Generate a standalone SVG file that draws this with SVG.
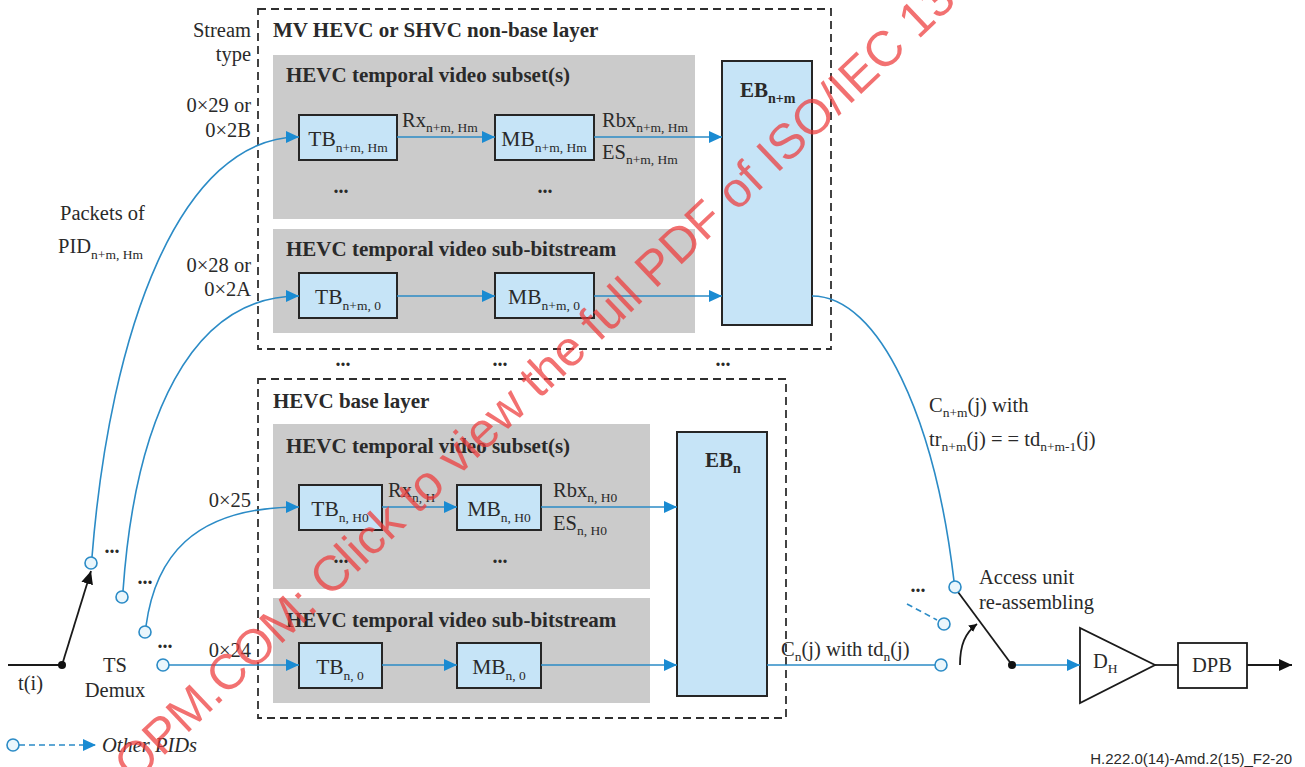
<svg xmlns="http://www.w3.org/2000/svg" width="1305" height="767" viewBox="0 0 1305 767">
<defs>
<style>
text{font-family:"Liberation Serif","Times New Roman",serif;fill:#2a2a2a;font-size:20.5px}
.t{font-weight:bold;font-size:21px}
.bl{font-size:21.5px}
.sub{font-size:13.5px}
.eb{font-weight:bold;font-size:21px}
.ebs{font-weight:bold;font-size:14px}
.dash{fill:none;stroke:#2f2f2f;stroke-width:1.8;stroke-dasharray:8 5}
.gray{fill:#cbcbcb}
.box{fill:#c6e4f7;stroke:#262626;stroke-width:2}
.ln{fill:none;stroke:#2b8bc6;stroke-width:1.6}
.blk{fill:none;stroke:#1a1a1a;stroke-width:1.8}
.cir{fill:#eaf6fc;stroke:#2b8bc6;stroke-width:1.6}
.dots{font-size:20px;font-weight:bold}
.wm{font-family:"Liberation Sans",Arial,sans-serif;font-size:49.5px;fill:#ee3b3b;opacity:0.72}
</style>
<marker id="ab" markerUnits="userSpaceOnUse" markerWidth="14" markerHeight="12" refX="13" refY="6" orient="auto"><path d="M0,0 L13,6 L0,12 z" fill="#1a8bd2"/></marker>
<marker id="ak" markerUnits="userSpaceOnUse" markerWidth="14" markerHeight="12" refX="13" refY="6" orient="auto"><path d="M0,0 L13,6 L0,12 z" fill="#111"/></marker>
<marker id="aks" markerUnits="userSpaceOnUse" markerWidth="9" markerHeight="8" refX="8" refY="4" orient="auto"><path d="M0,0 L8,4 L0,8 z" fill="#111"/></marker>
</defs>
<rect width="1305" height="767" fill="#fff"/>

<g id="nonbase-layer">
<rect class="dash" x="258" y="9" width="573" height="340"/>
<text class="t" x="273" y="37">MV HEVC or SHVC non-base layer</text>
</g>
<g id="nonbase-subset">
<rect class="gray" x="273" y="55" width="422" height="164"/>
<text class="t" x="286" y="82">HEVC temporal video subset(s)</text>
<text class="dots" x="341" y="193" text-anchor="middle">...</text>
<text class="dots" x="545" y="193" text-anchor="middle">...</text>
</g>
<g id="tb-nm-hm"><rect class="box" x="299" y="115" width="98" height="45"/><text class="bl" x="348" y="146" text-anchor="middle">TB<tspan class="sub" dy="6">n+m, Hm</tspan></text></g>
<g id="mb-nm-hm"><rect class="box" x="495" y="115" width="99" height="45"/><text class="bl" x="544" y="146" text-anchor="middle">MB<tspan class="sub" dy="6">n+m, Hm</tspan></text></g>
<g id="nonbase-sub">
<rect class="gray" x="273" y="229" width="422" height="104"/>
<text class="t" x="286" y="256">HEVC temporal video sub-bitstream</text>
</g>
<g id="tb-nm-0"><rect class="box" x="299" y="273" width="98" height="45"/><text class="bl" x="348" y="304" text-anchor="middle">TB<tspan class="sub" dy="6">n+m, 0</tspan></text></g>
<g id="mb-nm-0"><rect class="box" x="495" y="273" width="99" height="45"/><text class="bl" x="544" y="304" text-anchor="middle">MB<tspan class="sub" dy="6">n+m, 0</tspan></text></g>
<g id="eb-nm"><rect class="box" x="722" y="61" width="90" height="264"/><text class="eb" x="740" y="97">EB<tspan class="ebs" dy="6">n+m</tspan></text></g>

<g id="base-layer">
<rect class="dash" x="258" y="379" width="528" height="339"/>
<text class="t" x="273" y="408">HEVC base layer</text>
</g>
<g id="base-subset">
<rect class="gray" x="273" y="424" width="377" height="165"/>
<text class="t" x="286" y="453">HEVC temporal video subset(s)</text>
<text class="dots" x="341" y="563" text-anchor="middle">...</text>
<text class="dots" x="500" y="563" text-anchor="middle">...</text>
</g>
<g id="tb-n-h0"><rect class="box" x="299" y="485" width="83" height="45"/><text class="bl" x="340" y="516" text-anchor="middle">TB<tspan class="sub" dy="6">n, H0</tspan></text></g>
<g id="mb-n-h0"><rect class="box" x="457" y="485" width="84" height="45"/><text class="bl" x="499" y="516" text-anchor="middle">MB<tspan class="sub" dy="6">n, H0</tspan></text></g>
<g id="base-sub">
<rect class="gray" x="273" y="598" width="377" height="105"/>
<text class="t" x="286" y="627">HEVC temporal video sub-bitstream</text>
</g>
<g id="tb-n-0"><rect class="box" x="299" y="643" width="83" height="45"/><text class="bl" x="340" y="674" text-anchor="middle">TB<tspan class="sub" dy="6">n, 0</tspan></text></g>
<g id="mb-n-0"><rect class="box" x="457" y="643" width="84" height="45"/><text class="bl" x="499" y="674" text-anchor="middle">MB<tspan class="sub" dy="6">n, 0</tspan></text></g>
<g id="eb-n"><rect class="box" x="677" y="432" width="90" height="264"/><text class="eb" x="705" y="467">EB<tspan class="ebs" dy="6">n</tspan></text></g>

<g id="between-dots">
<text class="dots" x="343" y="366" text-anchor="middle">...</text>
<text class="dots" x="500" y="366" text-anchor="middle">...</text>
<text class="dots" x="723" y="366" text-anchor="middle">...</text>
</g>

<g id="dh"><polygon points="1080,628 1080,703 1155,665" fill="#fff" stroke="#1a1a1a" stroke-width="1.8"/><text x="1093" y="668">D<tspan class="sub" dy="5">H</tspan></text></g>
<g id="dpb"><rect x="1178" y="643" width="69" height="45" fill="#fff" stroke="#1a1a1a" stroke-width="1.8"/><text x="1212" y="672" text-anchor="middle">DPB</text></g>

<g id="connectors">
<line class="ln" x1="397" y1="137" x2="495" y2="137" marker-end="url(#ab)"/>
<line class="ln" x1="594" y1="137" x2="722" y2="137" marker-end="url(#ab)"/>
<line class="ln" x1="397" y1="296" x2="495" y2="296" marker-end="url(#ab)"/>
<line class="ln" x1="594" y1="296" x2="722" y2="296" marker-end="url(#ab)"/>
<line class="ln" x1="382" y1="507" x2="457" y2="507" marker-end="url(#ab)"/>
<line class="ln" x1="541" y1="507" x2="677" y2="507" marker-end="url(#ab)"/>
<line class="ln" x1="382" y1="665" x2="457" y2="665" marker-end="url(#ab)"/>
<line class="ln" x1="541" y1="665" x2="677" y2="665" marker-end="url(#ab)"/>
<path class="ln" d="M92,557 C110,330 180,137 299,137" marker-end="url(#ab)"/>
<path class="ln" d="M123,591 C135,420 190,296 299,296" marker-end="url(#ab)"/>
<path class="ln" d="M146,626 C155,560 190,507 299,507" marker-end="url(#ab)"/>
<line class="ln" x1="169" y1="665" x2="299" y2="665" marker-end="url(#ab)"/>
<path class="ln" d="M812,296 C880,296 935,420 954,581"/>
<line class="ln" x1="767" y1="665" x2="935" y2="665"/>
<line class="ln" x1="907" y1="604" x2="937" y2="620" stroke-dasharray="6 4"/>
<line class="ln" x1="1012" y1="665" x2="1080" y2="665" marker-end="url(#ab)"/>
<line class="ln" x1="19" y1="745" x2="96" y2="745" stroke-dasharray="6 4" marker-end="url(#ab)"/>
<line class="blk" x1="8" y1="665" x2="62" y2="665"/>
<line class="blk" x1="62" y1="665" x2="91" y2="571" marker-end="url(#ak)"/>
<circle cx="62" cy="665" r="4" fill="#111"/>
<line class="blk" x1="958" y1="592" x2="1012" y2="665"/>
<circle cx="1012" cy="665" r="4" fill="#111"/>
<path class="blk" d="M960,665 C960,645 965,633 977,624" stroke-width="1.2" marker-end="url(#aks)"/>
<line class="blk" x1="1155" y1="665" x2="1178" y2="665"/>
<line class="blk" x1="1247" y1="665" x2="1292" y2="665" marker-end="url(#ak)"/>
<circle class="cir" cx="91" cy="563" r="6"/>
<circle class="cir" cx="122" cy="597" r="6"/>
<circle class="cir" cx="145" cy="632" r="6"/>
<circle class="cir" cx="163" cy="665" r="6"/>
<circle class="cir" cx="955" cy="587" r="6"/>
<circle class="cir" cx="944" cy="624" r="6"/>
<circle class="cir" cx="941" cy="665" r="6"/>
<circle class="cir" cx="13" cy="745" r="6"/>
</g>

<g id="labels">
<text x="251" y="37" text-anchor="end">Stream</text>
<text x="251" y="61" text-anchor="end">type</text>
<text x="251" y="112" text-anchor="end">0×29 or</text>
<text x="251" y="137" text-anchor="end">0×2B</text>
<text x="251" y="272" text-anchor="end">0×28 or</text>
<text x="251" y="296" text-anchor="end">0×2A</text>
<text x="251" y="507" text-anchor="end">0×25</text>
<text x="251" y="657" text-anchor="end">0×24</text>
<text x="60" y="220">Packets of</text>
<text x="58" y="253">PID<tspan class="sub" dy="6">n+m, Hm</tspan></text>
<text x="402" y="127">Rx<tspan class="sub" dy="5">n+m, Hm</tspan></text>
<text x="602" y="127">Rbx<tspan class="sub" dy="5">n+m, Hm</tspan></text>
<text x="602" y="159">ES<tspan class="sub" dy="5">n+m, Hm</tspan></text>
<text x="388" y="497">Rx<tspan class="sub" dy="5">n, H</tspan></text>
<text x="553" y="497">Rbx<tspan class="sub" dy="5">n, H0</tspan></text>
<text x="553" y="530">ES<tspan class="sub" dy="5">n, H0</tspan></text>
<text x="929" y="412">C<tspan class="sub" dy="5">n+m</tspan><tspan dy="-5">(j) with</tspan></text>
<text x="929" y="446">tr<tspan class="sub" dy="5">n+m</tspan><tspan dy="-5">(j) = = td</tspan><tspan class="sub" dy="5">n+m-1</tspan><tspan dy="-5">(j)</tspan></text>
<text x="781" y="656">C<tspan class="sub" dy="5">n</tspan><tspan dy="-5">(j) with td</tspan><tspan class="sub" dy="5">n</tspan><tspan dy="-5">(j)</tspan></text>
<text x="979" y="584">Access unit</text>
<text x="979" y="609">re-assembling</text>
<text x="18" y="690">t(i)</text>
<text x="115" y="672" text-anchor="middle">TS</text>
<text x="115" y="697" text-anchor="middle">Demux</text>
<text x="102" y="752" font-style="italic">Other PIDs</text>
<text class="dots" x="112" y="553" text-anchor="middle">...</text>
<text class="dots" x="145" y="584" text-anchor="middle">...</text>
<text class="dots" x="165" y="648" text-anchor="middle">...</text>
<text class="dots" x="918" y="592" text-anchor="middle">...</text>
<text x="1292" y="764" text-anchor="end" style="font-family:'Liberation Sans',Arial,sans-serif;font-size:15px">H.222.0(14)-Amd.2(15)_F2-20</text>
</g>

<text class="wm" transform="translate(134,784) rotate(-43.5)">OPM.COM: Click to view the full PDF of ISO/IEC 13</text>
</svg>
